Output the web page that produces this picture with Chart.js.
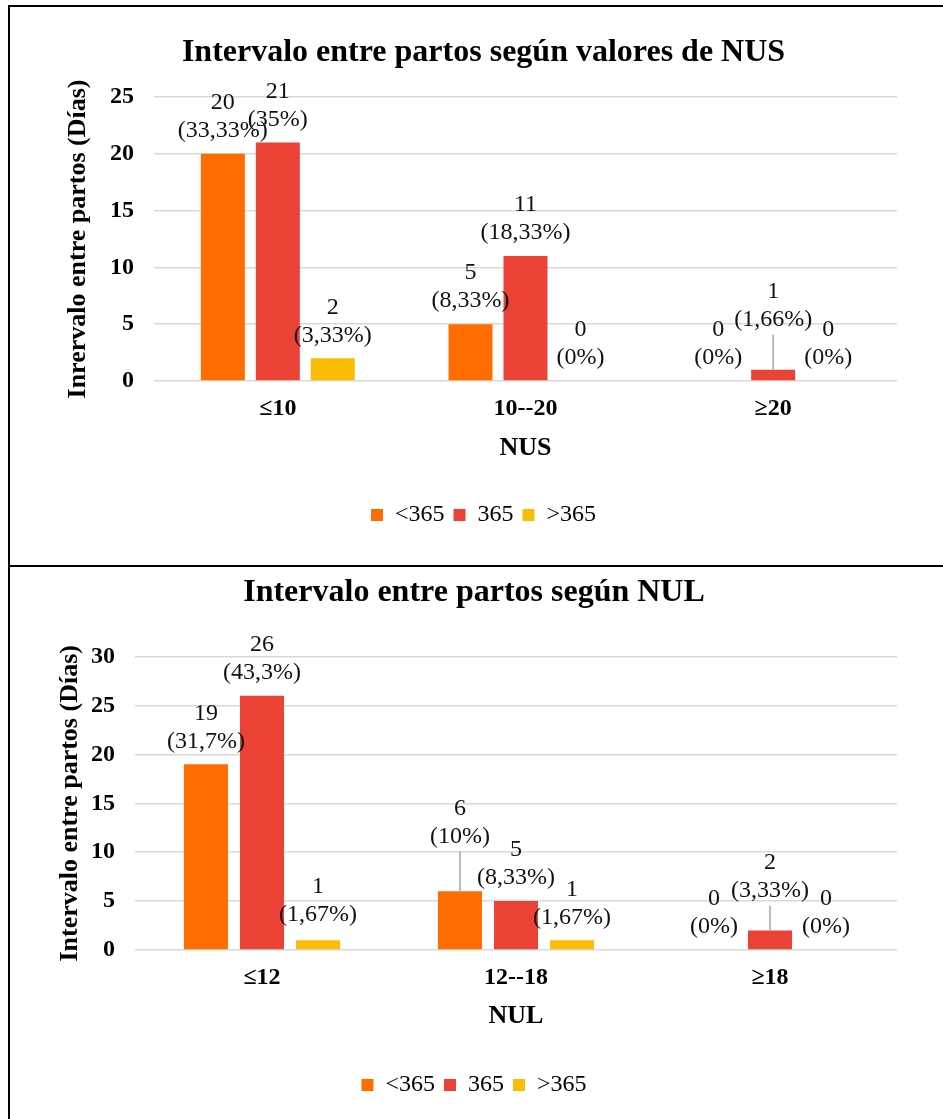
<!DOCTYPE html>
<html lang="es">
<head>
<meta charset="utf-8">
<title>Intervalo entre partos</title>
<script src="https://cdn.jsdelivr.net/npm/chart.js@4.4.1/dist/chart.umd.min.js"></script>
<style>
  html, body { margin: 0; padding: 0; background: #fff; }
  body { width: 943px; height: 1119px; position: relative; overflow: hidden; }
  .panel { position: absolute; left: 10px; width: 933px; }
  #panelNus { top: 7px; height: 558px; }
  #panelNul { top: 567px; height: 552px; }
  .rule { position: absolute; background: #000; }
</style>
</head>
<body>
<div class="panel" id="panelNus"><canvas id="chartNus"></canvas></div>
<div class="panel" id="panelNul"><canvas id="chartNul"></canvas></div>
<div class="rule" style="left:8px;top:5px;width:935px;height:2px"></div>
<div class="rule" style="left:8px;top:565px;width:935px;height:2px"></div>
<div class="rule" style="left:8px;top:5px;width:2px;height:1114px"></div>

<script>
// ---- data -------------------------------------------------------------
const seriesNames = ['<365', '365', '>365'];

const nusCategories = ['≤10', '10--20', '≥20'];
const nusUnder365 = [20, 5, 0];
const nusAt365 = [21, 11, 1];
const nusOver365 = [2, 0, 0];
const nusUnder365Pct = ['33,33%', '8,33%', '0%'];
const nusAt365Pct = ['35%', '18,33%', '1,66%'];
const nusOver365Pct = ['3,33%', '0%', '0%'];
const nusTicks = [0, 5, 10, 15, 20, 25];

const nulCategories = ['≤12', '12--18', '≥18'];
const nulUnder365 = [19, 6, 0];
const nulAt365 = [26, 5, 2];
const nulOver365 = [1, 1, 0];
const nulUnder365Pct = ['31,7%', '10%', '0%'];
const nulAt365Pct = ['43,3%', '8,33%', '3,33%'];
const nulOver365Pct = ['1,67%', '1,67%', '0%'];
const nulTicks = [0, 5, 10, 15, 20, 25, 30];

// ---- styling ----------------------------------------------------------
const FONT = '"Liberation Serif", "Times New Roman", serif';
const COLORS = ['#FF6D01', '#EA4335', '#FBBC04'];

// Two-line value labels ("n" over "(p%)") above each bar; some are raised
// and tied back to their bar with a thin leader line.
const valueLabels = {
  id: 'valueLabels',
  afterDatasetsDraw(chart, _args, opts) {
    const { ctx } = chart;
    ctx.save();
    ctx.font = `24px ${FONT}`;
    ctx.fillStyle = '#111';
    ctx.textAlign = 'center';
    ctx.textBaseline = 'middle';
    chart.data.datasets.forEach((ds, di) => {
      chart.getDatasetMeta(di).data.forEach((bar, i) => {
        const lift = (opts.lift || {})[di + ':' + i] || 0;
        const pctY = bar.y - opts.gap - lift;
        const valY = pctY - opts.lineGap;
        ctx.fillText(String(ds.data[i]), bar.x, valY);
        ctx.fillText('(' + ds.pct[i] + ')', bar.x, pctY);
        if (lift > 10) {
          ctx.strokeStyle = '#a6a6a6';
          ctx.lineWidth = 1.5;
          ctx.beginPath();
          ctx.moveTo(bar.x, pctY + 15);
          ctx.lineTo(bar.x, bar.y);
          ctx.stroke();
        }
      });
    });
    ctx.restore();
  }
};

function buildChart(canvasId, cfg) {
  const bold = size => ({ family: FONT, size, weight: 'bold' });
  return new Chart(document.getElementById(canvasId), {
    type: 'bar',
    plugins: [valueLabels],
    data: {
      labels: cfg.categories,
      datasets: cfg.series.map((values, k) => ({
        label: seriesNames[k],
        data: values,
        pct: cfg.pcts[k],
        backgroundColor: COLORS[k],
        borderWidth: 0,
        categoryPercentage: cfg.catPct,
        barPercentage: cfg.barPct
      }))
    },
    options: {
      responsive: true,
      maintainAspectRatio: false,
      animation: false,
      devicePixelRatio: 1,
      layout: { padding: { left: cfg.padLeft, right: 46, top: 0, bottom: cfg.padBottom } },
      plugins: {
        title: {
          display: true,
          text: cfg.title,
          color: '#000',
          font: bold(32),
          padding: { top: cfg.titleTop, bottom: cfg.titleBottom }
        },
        legend: {
          position: 'bottom',
          labels: {
            color: '#000',
            font: { family: FONT, size: 24 },
            boxWidth: 12,
            boxHeight: 12,
            padding: 9
          }
        },
        tooltip: { enabled: false },
        valueLabels: { gap: 23, lineGap: 28, lift: cfg.lift }
      },
      scales: {
        x: {
          grid: { display: false, drawTicks: false },
          border: { display: false },
          ticks: { color: '#000', font: bold(24), padding: 13.6 },
          title: {
            display: true,
            text: cfg.xTitle,
            color: '#000',
            font: bold(26),
            padding: { top: cfg.xTitleTop, bottom: cfg.xTitleBottom }
          }
        },
        y: {
          min: cfg.ticks[0],
          max: cfg.ticks[cfg.ticks.length - 1],
          grid: { color: '#d9d9d9', lineWidth: 1.5, drawTicks: false },
          border: { display: false },
          ticks: { color: '#000', font: bold(24), padding: 20 },
          afterBuildTicks: s => { s.ticks = cfg.ticks.map(v => ({ value: v })); },
          afterFit: s => { s.width = cfg.yWidth; },
          title: {
            display: true,
            text: cfg.yTitle,
            color: '#000',
            font: bold(26),
            padding: { top: cfg.yTitleTop, bottom: 0 }
          }
        }
      }
    }
  });
}

buildChart('chartNus', {
  title: 'Intervalo entre partos según valores de NUS',
  xTitle: 'NUS',
  yTitle: 'Inrervalo entre partos (Días)',
  categories: nusCategories,
  series: [nusUnder365, nusAt365, nusOver365],
  pcts: [nusUnder365Pct, nusAt365Pct, nusOver365Pct],
  ticks: nusTicks,
  catPct: 0.666, barPct: 0.8,
  padLeft: 60, yWidth: 84, yTitleTop: -7.6,
  titleTop: 26.8, titleBottom: 24.8,
  xTitleTop: -4, xTitleBottom: 29.8,
  padBottom: 28,
  lift: { '1:2': 27 }
});

buildChart('chartNul', {
  title: 'Intervalo entre partos según NUL',
  xTitle: 'NUL',
  yTitle: 'Intervalo entre partos (Días)',
  categories: nulCategories,
  series: [nulUnder365, nulAt365, nulOver365],
  pcts: [nulUnder365Pct, nulAt365Pct, nulOver365Pct],
  ticks: nulTicks,
  catPct: 0.662, barPct: 0.786,
  padLeft: 41, yWidth: 84, yTitleTop: 3.4,
  titleTop: 6.8, titleBottom: 44.5,
  xTitleTop: -5.6, xTitleBottom: 32.4,
  padBottom: 12,
  lift: { '0:1': 32, '1:2': 17, '2:0': 3 }
});
</script>
</body>
</html>
